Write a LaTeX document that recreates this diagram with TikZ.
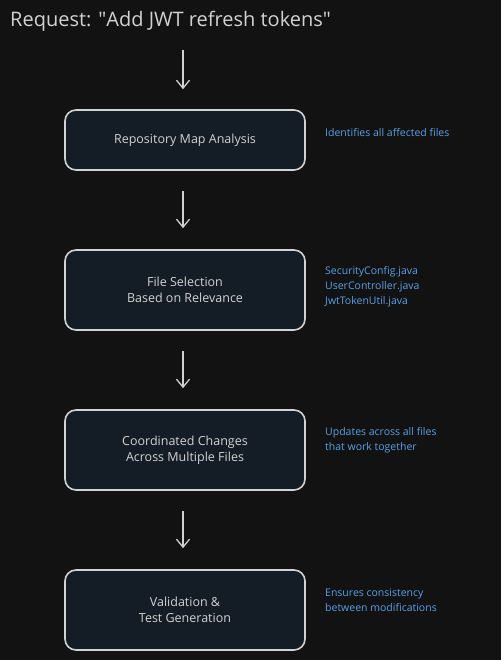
\documentclass[tikz,border=0pt]{standalone}
\usepackage{fontspec}
\setmainfont{Open Sans}
\usetikzlibrary{arrows.meta}
\definecolor{bgc}{HTML}{121212}
\definecolor{boxfill}{HTML}{141D26}
\definecolor{edge}{HTML}{D2D2D2}
\definecolor{note}{HTML}{5AA0E6}
\begin{document}
\begin{tikzpicture}[x=1pt,y=-1pt,>={Straight Barb[length=8pt,width=13pt,line width=1.3pt]},
	stage/.style={draw=edge,fill=boxfill,line width=1.6pt,rounded corners=11pt,minimum width=240pt,text=edge,font=\fontsize{12.5}{16.5}\selectfont,align=center},
	aside/.style={anchor=west,text=note,font=\fontsize{10.5}{15}\selectfont,align=left,inner sep=0pt},
	flow/.style={->,draw=edge,line width=1.3pt,shorten >=21pt,shorten <=20pt}]
	\fill[bgc] (0,0) rectangle (501,660);
	\useasboundingbox (0,0) rectangle (501,660);
	\node[anchor=west,text=edge,font=\fontsize{20}{22}\selectfont,inner sep=0pt] (req) at (10,21) {Request: \textquotedbl Add JWT refresh tokens\textquotedbl};
	\coordinate (top) at (183,50);
	\node[stage,minimum height=60pt] (map) at (185,140) {Repository Map Analysis};
	\node[stage,minimum height=80pt] (sel) at (185,290) {File Selection\\Based on Relevance};
	\node[stage,minimum height=80pt] (chg) at (185,450) {Coordinated Changes\\Across Multiple Files};
	\node[stage,minimum height=80pt] (val) at (185,610) {Validation \&\\Test Generation};
	\draw[flow,shorten <=0pt,shorten >=20pt] (top) -- (top |- map.north);
	\foreach \a/\b in {map/sel,sel/chg,chg/val}
		\draw[flow] (\a.south -| top) -- (\b.north -| top);
	\node[aside] (n1) at (325,133) {Identifies all affected files};
	\node[aside] (n2) at (325,287) {SecurityConfig.java\\UserController.java\\JwtTokenUtil.java};
	\node[aside] (n3) at (325,440) {Updates across all files\\that work together};
	\node[aside] (n4) at (325,600) {Ensures consistency\\between modifications};
\end{tikzpicture}
\end{document}
